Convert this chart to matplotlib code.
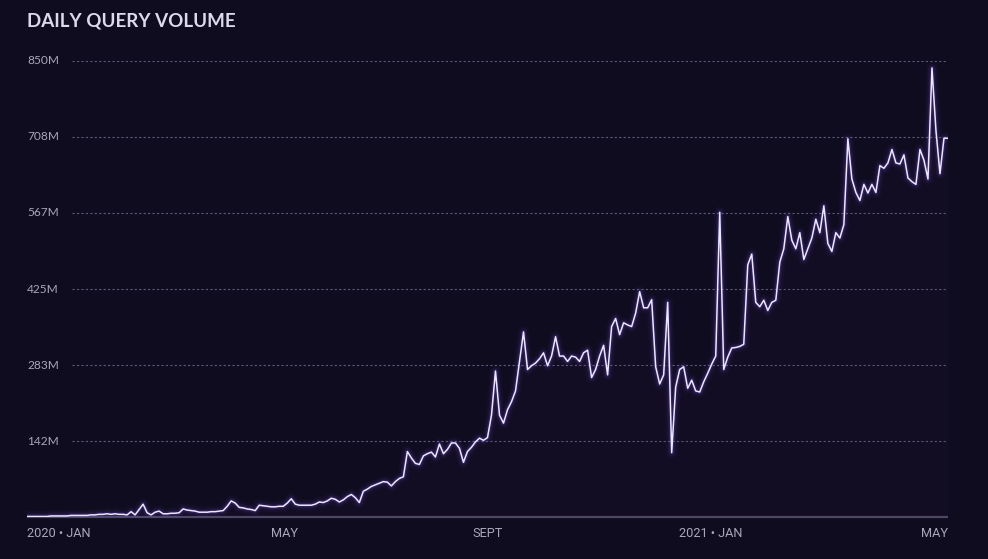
import numpy as np
import matplotlib
matplotlib.use("Agg")
import matplotlib.pyplot as plt

# ---- data (millions of queries per sample, roughly every two days) ----
volume_m = [
    1, 1, 1, 1, 1, 1, 2, 2, 2, 2,
    2, 3, 3, 3, 3, 3, 4, 4, 5, 5,
    6, 5, 6, 5, 5, 4, 10, 4, 14, 24,
    8, 4, 9, 11, 6, 6, 7, 7, 8, 15,
    13, 12, 11, 9, 9, 9, 10, 10, 11, 12,
    20, 30, 26, 18, 17, 15, 14, 12, 22, 21,
    20, 19, 19, 20, 20, 26, 34, 24, 22, 22,
    22, 22, 24, 28, 27, 30, 35, 33, 28, 32,
    38, 42, 36, 27, 48, 52, 57, 60, 63, 66,
    65, 58, 66, 72, 75, 122, 110, 100, 98, 114,
    118, 121, 112, 136, 118, 126, 138, 138, 128, 102,
    122, 130, 140, 147, 143, 148, 190, 272, 190, 175,
    200, 215, 235, 290, 345, 275, 282, 287, 295, 306,
    282, 300, 336, 300, 300, 290, 300, 298, 290, 306,
    311, 260, 275, 300, 320, 265, 355, 370, 340, 362,
    358, 355, 380, 420, 390, 390, 405, 280, 248, 265,
    400, 120, 242, 275, 280, 240, 255, 235, 233, 252,
    268, 285, 300, 568, 275, 298, 315, 316, 318, 322,
    470, 490, 400, 392, 404, 385, 400, 404, 475, 500,
    560, 516, 500, 530, 480, 500, 520, 555, 530, 580,
    510, 495, 530, 520, 545, 705, 630, 605, 590, 620,
    604, 620, 605, 655, 650, 660, 685, 660, 658, 675,
    632, 625, 620, 685, 665, 630, 837, 720, 640, 706,
    706,
]
y_ticks = [850 / 6 * k for k in range(1, 7)]
y_tick_labels = ["142M", "283M", "425M", "567M", "708M", "850M"]
x_tick_labels = ["2020 • JAN", "MAY", "SEPT", "2021 • JAN", "MAY"]
x_tick_frac = [0.0, 0.28, 0.5, 0.742, 1.0]  # position along the time axis
title = "DAILY QUERY VOLUME"

# ---- styling ----
bg = "#100c20"
line_c = "#ece6ff"
glow_c = "#8a63ff"
grid_c = "#5e5a74"
label_c = "#a9a6ba"

fig = plt.figure(figsize=(9.88, 5.59), dpi=100, facecolor=bg)
ax = fig.add_axes([0.0273, 0.0751, 0.9322, 0.8158])
ax.set_facecolor(bg)

x = np.arange(len(volume_m))
xmax = x[-1]
ax.set_xlim(0, xmax)
ax.set_ylim(0, 850)
ax.axis("off")

# grid lines (dashed, starting after the labels)
grid_start = xmax * 0.049
for yv, lab in zip(y_ticks, y_tick_labels):
    ax.hlines(yv, grid_start, xmax, colors=grid_c, linestyles=(0, (2, 2)),
              linewidth=0.8, zorder=1)
    ax.text(0, yv, lab, color=label_c, fontsize=8.6, family="Lato",
            ha="left", va="center", zorder=2)

# baseline
ax.hlines(0, 0, xmax, colors="#4e4a63", linewidth=1.6, zorder=2, clip_on=False)

# very faint fill glow under the line
ax.fill_between(x, 0, volume_m, color="#3a1f5e", alpha=0.06, linewidth=0, zorder=2)

# glow layers
for lw, a in [(8, 0.04), (5, 0.07), (3, 0.14)]:
    ax.plot(x, volume_m, color=glow_c, linewidth=lw, alpha=a,
            solid_joinstyle="round", zorder=3)
ax.plot(x, volume_m, color=line_c, linewidth=1.1, solid_joinstyle="round", zorder=4)

# x labels
for f, lab in zip(x_tick_frac, x_tick_labels):
    ha = "left" if f == 0 else ("right" if f == 1 else "center")
    ax.text(f * xmax, -30, lab, color=label_c, fontsize=9.2, family="Roboto",
            ha=ha, va="center", zorder=2, clip_on=False)

# title
fig.text(0.0273, 1 - 21 / 559, title, color="#dcdaea", fontsize=13.5,
         family="Lato", fontweight="bold", ha="left", va="center")

fig.savefig("out.png", dpi=100, facecolor=bg)
